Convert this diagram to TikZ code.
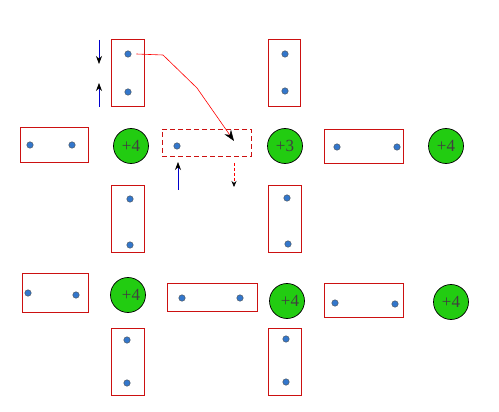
\documentclass[tikz,border=0pt]{standalone}
\usepackage{fontspec}
\setmainfont{Liberation Serif}
\usetikzlibrary{arrows.meta}
\definecolor{boxred}{HTML}{CC1111}
\definecolor{cgreen}{HTML}{22CC11}
\definecolor{dotblue}{HTML}{3377CC}
\tikzset{
  pbox/.style={draw=boxred, line width=0.8pt, minimum width=#1, inner sep=0pt},
  dotn/.style={circle, fill=dotblue, draw=black!70, line width=0.4pt, minimum size=6.5pt, inner sep=0pt},
  site/.style={circle, fill=cgreen, draw=black, line width=0.7pt, minimum size=35pt, inner sep=0pt, font=\fontsize{17}{17}\selectfont, text=black!75},
  barrow/.style={draw=blue!80!black, line width=0.7pt, -{Stealth[black,length=8pt,width=6pt]}},
}
\begin{document}
\begin{tikzpicture}[x=1pt,y=-1pt]
\useasboundingbox (0,0) rectangle (499,412);
% rectangles (vertical)
\node[pbox=33pt, minimum height=67pt] (v1) at (127.5,72.5) {};
\node[pbox=32pt, minimum height=67pt] (v2) at (284,72.5) {};
\node[pbox=33pt, minimum height=67pt] (v3) at (127.5,218.5) {};
\node[pbox=33pt, minimum height=67pt] (v4) at (284.5,218.5) {};
\node[pbox=33pt, minimum height=67pt] (v5) at (127.5,361.5) {};
\node[pbox=33pt, minimum height=67pt] (v6) at (284.5,361.5) {};
% horizontal
\node[pbox=68pt, minimum height=35pt] (h1) at (54,144.5) {};
\node[pbox=89pt, minimum height=27pt, dashed, dash pattern=on 5pt off 3pt] (h2) at (206.5,142.5) {};
\node[pbox=79pt, minimum height=34pt] (h3) at (363.5,146) {};
\node[pbox=66pt, minimum height=39pt] (h4) at (55,292.5) {};
\node[pbox=90pt, minimum height=28pt] (h5) at (212,297) {};
\node[pbox=79pt, minimum height=34pt] (h6) at (363.5,300) {};
% dots
\node[dotn] (d1) at (128,54) {};
\node[dotn] (d2) at (128,92) {};
\node[dotn] (d3) at (285,54) {};
\node[dotn] (d4) at (285,91) {};
\node[dotn] (d5) at (30,145) {};
\node[dotn] (d6) at (72,145) {};
\node[dotn] (d7) at (177,146) {};
\node[dotn] (d8) at (337,147) {};
\node[dotn] (d9) at (397,147) {};
\node[dotn] (d10) at (130,199) {};
\node[dotn] (d11) at (130,245) {};
\node[dotn] (d12) at (287,198) {};
\node[dotn] (d13) at (288,244) {};
\node[dotn] (d14) at (28,293) {};
\node[dotn] (d15) at (76,295) {};
\node[dotn] (d16) at (182,298) {};
\node[dotn] (d17) at (240,298) {};
\node[dotn] (d18) at (335,303) {};
\node[dotn] (d19) at (395,304) {};
\node[dotn] (d20) at (127,340) {};
\node[dotn] (d21) at (127,383) {};
\node[dotn] (d22) at (286,339) {};
\node[dotn] (d23) at (286,382) {};
% circles
\node[site] (c1) at (131,146) {+4};
\node[site] (c2) at (285,146) {+3};
\node[site] (c3) at (446,146) {+4};
\node[site] (c4) at (128,295) {\hspace*{6pt}+4};
\node[site] (c5) at (287,301) {\hspace*{6pt}+4};
\node[site] (c6) at (451,302) {+4};
% arrows
\coordinate (a1s) at (99,40); \coordinate (a1e) at (99,64);
\coordinate (a2s) at (99,107); \coordinate (a2e) at (99,83);
\coordinate (a3s) at (178,190); \coordinate (a3e) at (178,162);
\coordinate (a4s) at (234,163); \coordinate (a4e) at (234,187);
\draw[barrow] (a1s) -- (a1e);
\draw[barrow] (a2s) -- (a2e);
\draw[barrow] (a3s) -- (a3e);
\draw[draw=red, line width=0.6pt, dashed, dash pattern=on 3pt off 2pt, -{Stealth[black,length=6pt,width=5pt]}] (a4s) -- (a4e);
\coordinate (p1) at (163,55);
\coordinate (p2) at (197,88);
\coordinate (pe) at (234,141);
\draw[red, line width=0.6pt, -{Stealth[black,length=11pt,width=8pt]}] ([xshift=5pt]d1.east) -- (p1) -- (p2) -- (pe);
\end{tikzpicture}
\end{document}
